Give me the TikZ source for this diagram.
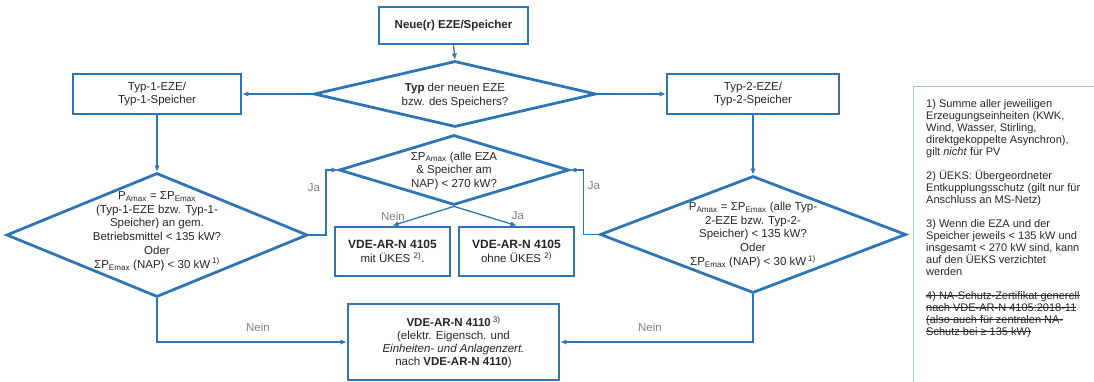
\documentclass[tikz,border=0pt]{standalone}
\usepackage{fontspec}
\setmainfont{Liberation Sans}
\usetikzlibrary{shapes.geometric,arrows.meta}
\definecolor{fblue}{HTML}{2E75B6}
\definecolor{ftext}{HTML}{262626}
\definecolor{fgray}{HTML}{7F7F7F}
\definecolor{fnote}{HTML}{9DC3E6}
\newcommand\mystrike[1]{\setbox0\hbox{#1}\rlap{\raisebox{3.2pt}{\rule{\wd0}{0.7pt}}}\box0}
\begin{document}
\begin{tikzpicture}[x=1pt,y=-1pt,
 box/.style={draw=fblue,line width=2.8pt,rectangle,inner sep=0pt,text=ftext,align=center,font=\fontsize{11.5}{13.5}\selectfont},
 dia/.style={draw=fblue,line width=2.8pt,diamond,inner sep=0pt},
 dtext/.style={text=ftext,align=center,inner sep=0pt,font=\fontsize{11.5}{13.8}\selectfont},
 arr/.style={draw=fblue,line width=1.3pt,-{Latex[length=6pt,width=5.5pt]}},
 lab/.style={text=fgray,font=\fontsize{11.5}{13.5}\selectfont,inner sep=0pt}]
\path[use as bounding box] (0,0) rectangle (1094,382);
\clip (0,0) rectangle (1094,382);

\node[box,minimum width=149pt,minimum height=37pt] (start) at (453.5,25.5) {\textbf{Neue(r) EZE/Speicher}};
\node[dia,minimum width=282pt,minimum height=66pt] (typ) at (455,94) {};
\node[dtext] (typt) at (455,95.5) {\textbf{Typ} der neuen EZE\\bzw. des Speichers?};
\node[box,minimum width=168pt,minimum height=40pt] (t1) at (157,94) {Typ-1-EZE/\\Typ-1-Speicher};
\node[box,minimum width=172pt,minimum height=40pt] (t2) at (753,94) {Typ-2-EZE/\\Typ-2-Speicher};

\node[dia,minimum width=301pt,minimum height=124pt] (d1) at (157,235) {};
\node[dtext] (d1t) at (157,231) {P\textsubscript{Amax} = ΣP\textsubscript{Emax}\\(Typ-1-EZE bzw. Typ-1-\\Speicher) an gem.\\Betriebsmittel < 135 kW?\\Oder\\ΣP\textsubscript{Emax} (NAP) < 30 kW\,\textsuperscript{1)}};

\node[dia,minimum width=306pt,minimum height=117pt] (d2) at (753,234.5) {};
\node[dtext] (d2t) at (753,235) {P\textsubscript{Amax} = ΣP\textsubscript{Emax} (alle Typ-\\2-EZE bzw. Typ-2-\\Speicher) < 135 kW?\\Oder\\ΣP\textsubscript{Emax} (NAP) < 30 kW\,\textsuperscript{1)}};

\node[dia,minimum width=230pt,minimum height=70pt] (dm) at (454,170) {};
\node[dtext] (dmt) at (454,171) {ΣP\textsubscript{Amax} (alle EZA\\\& Speicher am\\NAP) < 270 kW?};

\node[box,minimum width=115pt,minimum height=49pt] (mit) at (392.5,251.5) {{\fontsize{12}{13.5}\selectfont\textbf{VDE-AR-N 4105}}\\mit ÜKES \textsuperscript{2)}.};
\node[box,minimum width=115pt,minimum height=49pt] (ohne) at (516.5,251.5) {{\fontsize{12}{13.5}\selectfont\textbf{VDE-AR-N 4105}}\\ohne ÜKES \textsuperscript{2)}};

\node[box,minimum width=211pt,minimum height=76pt,font=\fontsize{11.5}{13}\selectfont] (b4110) at (453.5,342) {\textbf{VDE-AR-N 4110}\,\textsuperscript{3)}\\(elektr. Eigensch. und\\\textit{Einheiten- und Anlagenzert.}\\nach \textbf{VDE-AR-N 4110})};

\draw[arr] (start.south) -- (typ.north);
\draw[arr] (typ.west) -- (t1.east);
\draw[arr] (typ.east) -- (t2.west);
\draw[arr] (t1.south) -- (d1.north);
\draw[arr] (t2.south) -- (d2.north);
\draw[arr] (d1.east) -- ++(17,0) |- (dm.west);
\draw[arr] (d2.west) -- ++(-15,0) |- (dm.east);
\draw[arr] (dm.south) -- (mit.north);
\draw[arr] (dm.south) -- (ohne.north);
\draw[arr] (d1.south) |- (b4110.west);
\draw[arr] (d2.south) |- (b4110.east);

\node[lab] (ja1) at (314,188) {Ja};
\node[lab] (ja2) at (594,186) {Ja};
\node[lab] (nein1) at (393,216) {Nein};
\node[lab] (ja3) at (518,216) {Ja};
\node[lab] (nein2) at (258,327) {Nein};
\node[lab] (nein3) at (650,327) {Nein};

\draw[draw=fnote,line width=0.8pt] (913,86) rectangle (1110,400);
\node[anchor=north west,inner sep=0pt,align=left,text=ftext,font=\fontsize{11}{12}\selectfont] (notes) at (926,99) {1) Summe aller jeweiligen\\Erzeugungseinheiten (KWK,\\Wind, Wasser, Stirling,\\direktgekoppelte Asynchron),\\gilt \textit{nicht} für PV\\[12pt]2) ÜEKS: Übergeordneter\\Entkupplungsschutz (gilt nur für\\Anschluss an MS-Netz)\\[12pt]3) Wenn die EZA und der\\Speicher jeweils < 135 kW und\\insgesamt < 270 kW sind, kann\\auf den ÜEKS verzichtet\\werden\\[12pt]\mystrike{4) NA-Schutz-Zertifikat generell}\\\mystrike{nach VDE-AR-N 4105:2018-11}\\\mystrike{(also auch für zentralen NA-}\\\mystrike{Schutz bei ≥ 135 kW)}};
\end{tikzpicture}
\end{document}
